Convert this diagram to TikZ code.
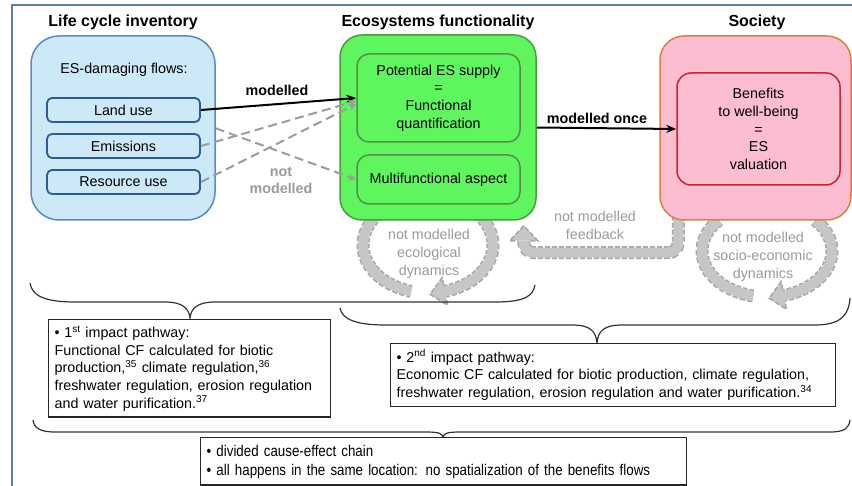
\documentclass[tikz,border=0pt]{standalone}
\usepackage{fontspec}
\setmainfont{Liberation Sans}
\newfontfamily\narrowfont[FakeStretch=0.86]{Liberation Sans}
\usetikzlibrary{arrows.meta,calc}
\pgfdeclarelayer{background}
\pgfsetlayers{background,main}

\definecolor{framecol}{HTML}{5B80A8}
\definecolor{lcifill}{HTML}{CDE9F7}
\definecolor{lcidraw}{HTML}{5A8AC0}
\definecolor{flowdraw}{HTML}{2E5C9A}
\definecolor{ecofill}{HTML}{5EF55E}
\definecolor{ecodraw}{HTML}{4A9E3A}
\definecolor{potdraw}{HTML}{5B8B47}
\definecolor{socfill}{HTML}{FCBDD0}
\definecolor{socdraw}{HTML}{D8813E}
\definecolor{bendraw}{HTML}{CC2233}
\definecolor{greytext}{HTML}{9A9A9A}
\definecolor{dashgrey}{HTML}{9C9C9C}
\definecolor{fatfill}{HTML}{C6C6C6}
\definecolor{fatedge}{HTML}{A8A8A8}

\newcommand{\bodyfs}{\fontsize{14.3}{17.7}\selectfont}
\newcommand{\titlefs}{\fontsize{16}{19}\selectfont\bfseries}

% head of a broad grey arrow: #1 base centre, #2 direction angle
\newcommand{\fathead}[2]{%
  \begin{scope}[shift={#1}, rotate=#2]
    \fill[fatfill] (0,-14) -- (15,0) -- (0,14) -- cycle;
    \draw[fatedge, line width=1.6pt, dash pattern=on 5pt off 2pt]
      (0,6.5) -- (0,14) -- (15,0) -- (0,-14) -- (0,-6.5);
  \end{scope}}

\begin{document}
\begin{tikzpicture}[x=1pt, y=-1pt,
  box/.style={draw, line width=1.5pt, inner sep=0pt, align=center, font=\bodyfs},
  lcibox/.style={box, fill=lcifill, draw=lcidraw, rounded corners=28pt,
    minimum width=184pt, minimum height=184pt},
  flowbox/.style={box, fill=lcifill, draw=flowdraw, line width=1.8pt,
    rounded corners=5pt, minimum width=153pt, minimum height=24pt},
  ecobox/.style={box, fill=ecofill, draw=ecodraw, rounded corners=22pt,
    minimum width=196pt, minimum height=185pt},
  potbox/.style={box, fill=ecofill, draw=potdraw, rounded corners=12pt,
    minimum width=163pt},
  socbox/.style={box, fill=socfill, draw=socdraw, rounded corners=24pt,
    minimum width=191pt, minimum height=184pt},
  benbox/.style={box, fill=socfill, draw=bendraw, rounded corners=14pt,
    minimum width=163pt, minimum height=112pt},
  heading/.style={font=\titlefs, inner sep=0pt},
  arrowlabel/.style={font=\bodyfs\bfseries, inner sep=0pt, align=center},
  greynote/.style={font=\bodyfs, text=greytext, align=center, inner sep=0pt},
  pathbox/.style={draw=black!85, line width=1.3pt, fill=white, font=\bodyfs,
    align=left, inner xsep=6pt, inner ysep=6pt, anchor=north west},
  brace/.style={draw=black!80, line width=1.2pt},
  modarrow/.style={line width=2pt, -{Stealth[length=10pt,width=8pt]}},
  notmod/.style={draw=dashgrey, line width=2pt, dash pattern=on 9pt off 5pt,
    -{Stealth[length=8pt,width=7pt]}},
  fatband/.style={draw=fatfill, line width=10pt,
    preaction={draw=fatedge, line width=13pt, dash pattern=on 5pt off 2pt}}
]
\useasboundingbox (0,0) rectangle (852,486);

% outer frame
\draw[framecol, line width=1.5pt] (12,492) -- (12,5) -- (858,5);

% column headings
\node[heading] (t1) at (123,22) {Life cycle inventory};
\node[heading] (t2) at (438,22) {Ecosystems functionality};
\node[heading] (t3) at (757,22) {Society};

% life cycle inventory
\node[lcibox] (lci) at (123,128) {};
\node[font=\bodyfs, inner sep=0pt] (esflows) at (124,70) {ES-damaging flows:};
\node[flowbox] (land) at (123.5,110) {Land use};
\node[flowbox] (emis) at (123.5,146) {Emissions};
\node[flowbox] (res) at (123.5,182) {Resource use};

% ecosystems functionality
\node[ecobox] (eco) at (438,127.5) {};
\node[potbox, minimum height=88pt] (pot) at (438.5,98)
  {Potential ES supply\\=\\Functional\\quantification};
\node[potbox, minimum height=49pt] (multi) at (438.5,179.5) {Multifunctional aspect};

% society
\node[socbox] (soc) at (755.5,128) {};
\node[benbox] (ben) at (758.5,129) {Benefits\\to well-being\\=\\ES\\valuation};

% broad grey loops and feedback, behind the boxes
\coordinate (ecoloop) at (428,245);
\coordinate (socloop) at (767,251);
\begin{pgfonlayer}{background}
  \draw[fatband] (ecoloop) ++(228:65 and 48)
    arc[start angle=228, end angle=105, x radius=65, y radius=48];
  \draw[fatband] (ecoloop) ++(-48:65 and 48)
    arc[start angle=-48, end angle=75, x radius=65, y radius=48] coordinate (ecohead);
  \draw[fatband] (socloop) ++(222:65 and 46)
    arc[start angle=222, end angle=102, x radius=65, y radius=46];
  \draw[fatband] (socloop) ++(-42:65 and 46)
    arc[start angle=-42, end angle=75, x radius=65, y radius=46] coordinate (sochead);
  \draw[fatband, rounded corners=10pt]
    ([xshift=19pt,yshift=12pt]soc.south west)
    |- ([xshift=-13pt,yshift=-32pt]eco.south east) -- ++(0,-12) coordinate (fbend);
\end{pgfonlayer}
\fathead{(ecohead)}{191}
\fathead{(sochead)}{191}
\fathead{(fbend)}{90}

\node[greynote] (ecodyn) at (429,254) {not modelled\\ecological\\dynamics};
\node[greynote] (socdyn) at (763,257) {not modelled\\socio-economic\\dynamics};
\node[greynote] (fblab) at (595,225.5) {not modelled\\feedback};

% flows towards the ecosystem
\draw[modarrow] (land.east) -- (pot.west);
\node[arrowlabel] (mlab) at (277,90) {modelled};
\draw[notmod] (emis.east) -- ([yshift=-3pt]pot.west);
\draw[notmod] (res.east) -- ([yshift=-6pt]pot.west);
\draw[notmod] (intersection of land.south east--multi.west and lci.north east--lci.south east)
  -- (multi.west);
\node[arrowlabel, text=greytext] (nmlab) at (281,180.5) {not\\modelled};

\draw[modarrow] (eco.east) -- (ben.west);
\node[arrowlabel] (molab) at (597,118) {modelled once};

% braces
\draw[brace] (30,283) .. controls (32,296) and (45,302) .. (75,302) -- (165,302)
  .. controls (182,302) and (189,308) .. (190,318)
  .. controls (191,308) and (198,302) .. (215,302) -- (495,302)
  .. controls (525,302) and (533,296) .. (535,285);
\draw[brace] (340,308) .. controls (342,320) and (358,325) .. (385,325) -- (572,325)
  .. controls (590,325) and (596,331) .. (597,343)
  .. controls (598,331) and (604,325) .. (622,325) -- (815,325)
  .. controls (842,325) and (849,314) .. (850,298);
\draw[brace] (33,420) .. controls (34,428) and (40,432) .. (55,432) -- (425,432)
  .. controls (438,432) and (442,433) .. (443,437)
  .. controls (444,433) and (448,432) .. (461,432) -- (830,432)
  .. controls (845,432) and (849,428) .. (850,420);

% impact pathways
\node[pathbox, text width=270pt] (path1) at (48,319)
  {• 1\textsuperscript{st} impact pathway:\\
   Functional CF calculated for biotic\\
   production,\textsuperscript{35} climate regulation,\textsuperscript{36}\\
   freshwater regulation, erosion regulation\\
   and water purification.\textsuperscript{37}};
\node[pathbox, text width=433pt] (path2) at (390,343)
  {• 2\textsuperscript{nd} impact pathway:\\
   Economic CF calculated for biotic production, climate regulation,\\
   freshwater regulation, erosion regulation and water purification.\textsuperscript{34}};
\node[pathbox, inner ysep=8pt, text width=474pt, text depth=20pt,
  font=\narrowfont\fontsize{15.5}{19}\selectfont] (chain) at (200,437)
  {• divided cause-effect chain\\
   • all happens in the same location: no spatialization of the benefits flows};
\end{tikzpicture}
\end{document}
